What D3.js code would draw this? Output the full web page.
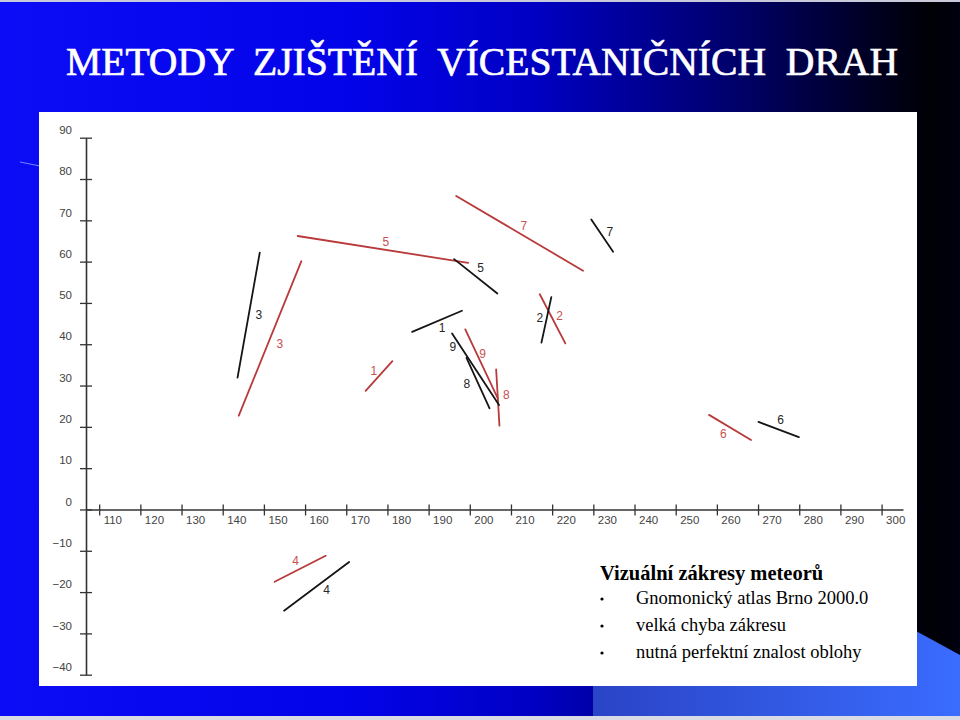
<!DOCTYPE html>
<html>
<head>
<meta charset="utf-8">
<script src="https://cdn.jsdelivr.net/npm/d3@7"></script>
<style>
  html, body { margin: 0; padding: 0; background: #fff; }
  svg { display: block; }
</style>
</head>
<body>
<svg id="chart" width="960" height="720"></svg>
<script>
// ---- DATA ----
const titleText = "METODY  ZJIŠTĚNÍ  VÍCESTANIČNÍCH  DRAH";
const xTicks = [110,120,130,140,150,160,170,180,190,200,210,220,230,240,250,260,270,280,290,300];
const yTicks = [-40,-30,-20,-10,0,10,20,30,40,50,60,70,80,90];
const xExtent = [106.8, 305.2];
const yExtent = [-40, 90];

// meteor trails: [id, x1, y1, x2, y2]
const blackSegments = [
  ["1", 186.0, 43.0, 198.1, 48.1],
  ["2", 219.8, 51.4, 217.4, 40.4],
  ["3", 149.0, 62.2, 143.6, 31.9],
  ["4", 154.9, -24.5, 170.7, -12.7],
  ["5", 196.2, 60.6, 206.7, 52.3],
  ["6", 270.1, 21.2, 279.9, 17.5],
  ["7", 229.5, 70.2, 234.8, 62.4],
  ["8", 199.2, 36.7, 204.8, 24.5],
  ["9", 195.7, 42.6, 207.1, 25.3]
];
const redSegments = [
  ["1", 174.7, 28.7, 181.2, 35.9],
  ["2", 217.0, 52.1, 223.2, 40.2],
  ["3", 159.1, 60.1, 143.9, 22.7],
  ["4", 152.6, -17.5, 165.0, -11.2],
  ["5", 158.2, 66.2, 199.6, 59.7],
  ["6", 258.1, 22.9, 268.3, 16.8],
  ["7", 196.7, 75.9, 227.5, 57.8],
  ["8", 206.4, 33.9, 207.2, 20.3],
  ["9", 198.9, 43.6, 206.8, 26.9]
];
// label positions: [id, x, y]
const blackLabels = [
  ["1", 193.3, 44.1], ["2", 217.0, 46.5], ["3", 148.8, 47.1],
  ["4", 165.2, -19.5], ["5", 202.6, 58.4], ["6", 275.5, 21.6],
  ["7", 234.0, 67.2], ["8", 199.3, 30.5], ["9", 195.9, 39.4]
];
const redLabels = [
  ["1", 176.7, 33.5], ["2", 221.8, 46.8], ["3", 153.9, 40.2],
  ["4", 157.7, -12.4], ["5", 179.6, 64.8], ["6", 261.6, 18.4],
  ["7", 213.1, 68.6], ["8", 208.9, 27.7], ["9", 203.1, 37.6]
];
const noteHeading = "Vizuální zákresy meteorů";
const noteBullets = ["Gnomonický atlas Brno 2000.0", "velká chyba zákresu", "nutná perfektní znalost oblohy"];

// ---- DRAW ----
const svg = d3.select("#chart");
const defs = svg.append("defs");
const bg = defs.append("linearGradient").attr("id", "bg").attr("x1", 0).attr("x2", 1).attr("y1", 0).attr("y2", 0);
[[0, "#0c0cf6"], [0.38, "#0303e8"], [0.56, "#0000c2"], [0.75, "#000072"], [0.88, "#000030"], [0.97, "#000005"], [1, "#000010"]]
  .forEach(([o, c]) => bg.append("stop").attr("offset", o).attr("stop-color", c));
const lb = defs.append("linearGradient").attr("id", "lb").attr("x1", 0).attr("x2", 1).attr("y1", 0).attr("y2", 0);
[[0, "#2a44c6"], [1, "#3a6cff"]].forEach(([o, c]) => lb.append("stop").attr("offset", o).attr("stop-color", c));

svg.append("rect").attr("width", 960).attr("height", 720).attr("fill", "url(#bg)");
svg.append("polygon")
  .attr("points", "593,686 593,716 960,716 960,655 916,631 916,686")
  .attr("fill", "url(#lb)");
svg.append("rect").attr("x", 0).attr("y", 716).attr("width", 960).attr("height", 4).attr("fill", "#d8dae6");
svg.append("rect").attr("x", 0).attr("y", 0).attr("width", 960).attr("height", 2).attr("fill", "#c8cadc");
svg.append("line").attr("x1", 20).attr("y1", 162).attr("x2", 40).attr("y2", 166)
  .attr("stroke", "#6c8cff").attr("stroke-width", 1);

// title
svg.append("text")
  .attr("x", 66).attr("y", 75)
  .attr("textLength", 832).attr("lengthAdjust", "spacingAndGlyphs")
  .style("white-space", "pre")
  .attr("font-family", "'Liberation Serif', 'Times New Roman', serif")
  .attr("font-size", 40)
  .attr("fill", "#ffffff").attr("stroke", "#ffffff").attr("stroke-width", 0.7)
  .text(titleText);

// white panel
svg.append("rect").attr("x", 39).attr("y", 112).attr("width", 878).attr("height", 574).attr("fill", "#ffffff");

const x = d3.scaleLinear().domain(xExtent).range([86, 903]);
const y = d3.scaleLinear().domain(yExtent).range([674.7, 137.7]);

const axisColor = "#333";
const labelColor = "#444";
const fontSans = "'Liberation Sans', Arial, sans-serif";

const gx = svg.append("g").attr("transform", `translate(0,${y(0)})`)
  .call(d3.axisBottom(x).tickValues(xTicks).tickSizeOuter(0).tickFormat(d3.format("d")));
gx.select(".domain").attr("stroke", axisColor).attr("stroke-width", 1.6);
gx.selectAll(".tick line").attr("y1", -5).attr("y2", 6).attr("stroke", axisColor).attr("stroke-width", 1.3);
gx.selectAll(".tick text").attr("x", 4).attr("y", 6).attr("dy", "0.71em").attr("text-anchor", "start")
  .attr("fill", labelColor).attr("font-family", fontSans).attr("font-size", 11.5);

const gy = svg.append("g").attr("transform", `translate(${x(xExtent[0])},0)`)
  .call(d3.axisLeft(y).tickValues(yTicks).tickSizeOuter(0).tickFormat(d3.format("d")));
gy.select(".domain").attr("stroke", axisColor).attr("stroke-width", 1.6);
gy.selectAll(".tick line").attr("x1", -6).attr("x2", 6).attr("stroke", axisColor).attr("stroke-width", 1.3);
gy.selectAll(".tick text").attr("x", -14).attr("y", -8).attr("dy", "0.32em").attr("text-anchor", "end")
  .attr("fill", labelColor).attr("font-family", fontSans).attr("font-size", 11.5);

// segments
const redLine = "#b83a3a", blackLine = "#151515";
function drawSegs(data, color) {
  svg.append("g").selectAll("line").data(data).join("line")
    .attr("x1", d => x(d[1])).attr("y1", d => y(d[2]))
    .attr("x2", d => x(d[3])).attr("y2", d => y(d[4]))
    .attr("stroke", color).attr("stroke-width", 1.8).attr("stroke-linecap", "round");
}
drawSegs(redSegments, redLine);
drawSegs(blackSegments, blackLine);

function drawLabels(data, color) {
  svg.append("g").selectAll("text").data(data).join("text")
    .attr("x", d => x(d[1])).attr("y", d => y(d[2]))
    .attr("dy", "0.35em").attr("text-anchor", "middle")
    .attr("font-family", fontSans).attr("font-size", 12)
    .attr("fill", color).text(d => d[0]);
}
drawLabels(redLabels, "#c85050");
drawLabels(blackLabels, "#262626");

// note block
const fontSerif = "'Liberation Serif', 'Times New Roman', serif";
svg.append("text").attr("x", 600).attr("y", 580)
  .attr("font-family", fontSerif).attr("font-size", 20.5).attr("font-weight", "bold")
  .attr("fill", "#000").text(noteHeading);
const nb = svg.append("g").selectAll("g").data(noteBullets).join("g")
  .attr("transform", (d, i) => `translate(0,${604 + i * 27})`);
nb.append("circle").attr("cx", 602).attr("cy", -5).attr("r", 1.6).attr("fill", "#000");
nb.append("text").attr("x", 636).attr("y", 0)
  .attr("font-family", fontSerif).attr("font-size", 18.5).attr("fill", "#000").text(d => d);
</script>
</body>
</html>
